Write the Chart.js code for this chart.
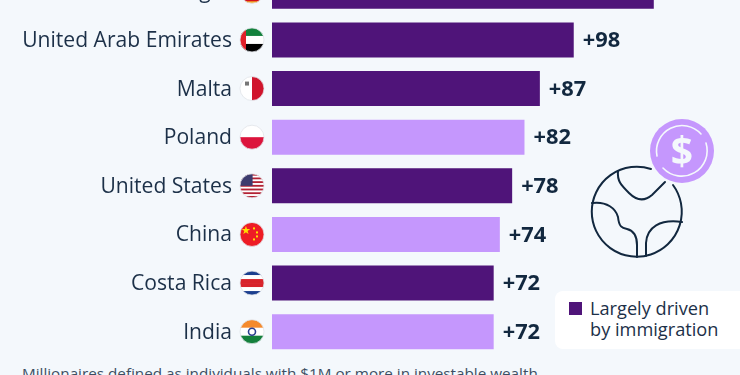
<!DOCTYPE html>
<html>
<head>
<meta charset="utf-8">
<script src="https://cdn.jsdelivr.net/npm/chart.js@4"></script>
<style>
  html, body { margin: 0; width: 740px; height: 375px; overflow: hidden; background: #f4f8fc; }
  #wrap { position: absolute; left: 0; top: -33px; width: 740px; height: 389px; }
  #note { position: absolute; left: 22px; top: 363px; font: 15.25px "Open Sans"; color: #3d4f63; white-space: nowrap; }
  #legend { position: absolute; left: 555px; top: 291px; width: 200px; height: 58px; background: #fff; border-radius: 8px; }
  #legend i { position: absolute; left: 14px; top: 11px; width: 13px; height: 13px; background: #4f1479; }
  #legend span { position: absolute; left: 35px; top: 7px; font: 18.2px/21px "Open Sans"; color: #1c3048; white-space: nowrap; }
  #icon { position: absolute; left: 585px; top: 115px; }
</style>
</head>
<body>
<div id="wrap"><canvas id="chart"></canvas></div>
<svg id="icon" width="135" height="165" viewBox="0 0 135 165" fill="none" stroke="#12283f" stroke-width="2" stroke-linecap="round">
  <circle cx="97" cy="36" r="32" fill="#c597fd" stroke="none"/>
  <path d="M72 41 A25.5 25.5 0 0 1 116 19 M121 28 A25.5 25.5 0 0 1 78 53" stroke="#f4f8fc" stroke-width="1.6"/>
  <text x="97" y="50" text-anchor="middle" font-family="Open Sans" font-weight="700" font-size="39" fill="#f4f8fc" stroke="none">$</text>
  <path d="M66 54 A45 45 0 1 0 88 70"/>
  <path d="M33 56 C32 66 36 70 44 78 C52 86 60 86 67 80 L80 67"/>
  <path d="M7 88 C22 86 31 94 33 102 C34 112 37 113 42 114 C50 116 52 122 52 130 L52 142"/>
  <path d="M97 107 C75 104 62 112 61 128 L61 141"/>
</svg>
<div id="legend"><i></i><span>Largely driven<br>by immigration</span></div>
<div id="note">Millionaires defined as individuals with $1M or more in investable wealth.</div>
<script>
const categories = ['Montenegro', 'United Arab Emirates', 'Malta', 'Poland', 'United States', 'China', 'Costa Rica', 'India'];
const growth = [124, 98, 87, 82, 78, 74, 72, 72];
const immigrationDriven = [true, true, true, false, true, false, true, false];

const darkPurple = '#4f1479';
const lightPurple = '#c597fd';
const textColor = '#1c3048';
const valueColor = '#12283f';

// stripes for the round flags, top to bottom
const flagStripes = {
  'Montenegro': ['#d3111c'],
  'United Arab Emirates': ['#12813c', '#fff', '#000'],
  'Malta': null,
  'Poland': ['#fff', '#dc143c'],
  'United States': ['#b22234', '#fff', '#b22234', '#fff', '#b22234', '#fff', '#b22234', '#fff', '#b22234', '#fff', '#b22234', '#fff', '#b22234'],
  'China': ['#ee1c25'],
  'Costa Rica': ['#1b3f8f', '#fff', '#d8232a', '#d8232a', '#fff', '#1b3f8f'],
  'India': ['#f58a2c', '#fff', '#14803c']
};

function drawFlag(ctx, name, cx, cy, r) {
  ctx.save();
  ctx.beginPath();
  ctx.arc(cx, cy, r, 0, Math.PI * 2);
  ctx.clip();
  ctx.fillStyle = '#fff';
  ctx.fillRect(cx - r, cy - r, r * 2, r * 2);
  const stripes = flagStripes[name];
  if (stripes) {
    const h = (r * 2) / stripes.length;
    stripes.forEach((c, i) => {
      ctx.fillStyle = c;
      ctx.fillRect(cx - r, cy - r + i * h, r * 2, h + 0.5);
    });
  }
  if (name === 'Montenegro') {
    ctx.fillStyle = '#f7b52c';
    ctx.fillRect(cx - r, cy + r - 2, r * 2, 2);
  }
  if (name === 'United Arab Emirates') {
    ctx.fillStyle = '#e0202a';
    ctx.fillRect(cx - r, cy - r, r * 0.5, r * 2);
  }
  if (name === 'Malta') {
    ctx.fillStyle = '#d0142c';
    ctx.fillRect(cx, cy - r, r, r * 2);
    ctx.fillStyle = '#777';
    ctx.fillRect(cx - 7, cy - 7, 4, 4);
  }
  if (name === 'United States') {
    ctx.fillStyle = '#3c3b6e';
    ctx.fillRect(cx - r, cy - r, r * 1.05, r);
  }
  if (name === 'China') {
    ctx.fillStyle = '#ffde00';
    ctx.font = '11px "DejaVu Sans"';
    ctx.textAlign = 'center';
    ctx.textBaseline = 'middle';
    ctx.fillText('★', cx - 6, cy - 3);
    ctx.fillRect(cx + 1, cy - 7, 2, 2);
    ctx.fillRect(cx + 4, cy - 3, 2, 2);
    ctx.fillRect(cx + 4, cy + 1, 2, 2);
    ctx.fillRect(cx + 1, cy + 4, 2, 2);
  }
  if (name === 'India') {
    ctx.strokeStyle = '#2a3f8f';
    ctx.lineWidth = 1.6;
    ctx.beginPath();
    ctx.arc(cx, cy, 3.5, 0, Math.PI * 2);
    ctx.stroke();
  }
  ctx.restore();
  ctx.strokeStyle = '#dfe3e8';
  ctx.lineWidth = 0.8;
  ctx.beginPath();
  ctx.arc(cx, cy, r, 0, Math.PI * 2);
  ctx.stroke();
}

const flagsAndValues = {
  id: 'flagsAndValues',
  afterDatasetsDraw(chart) {
    const { ctx, scales } = chart;
    const bars = chart.getDatasetMeta(0).data;
    categories.forEach((name, i) => {
      drawFlag(ctx, name, 252, scales.y.getPixelForValue(i), 12);
      ctx.save();
      ctx.fillStyle = valueColor;
      ctx.font = '700 21.8px "Open Sans"';
      ctx.textAlign = 'left';
      ctx.textBaseline = 'middle';
      ctx.fillText('+' + growth[i], bars[i].x + 9, bars[i].y + 1);
      ctx.restore();
    });
  }
};

new Chart(document.getElementById('chart'), {
  type: 'bar',
  data: {
    labels: categories,
    datasets: [{
      data: growth,
      backgroundColor: immigrationDriven.map(d => d ? darkPurple : lightPurple),
      borderWidth: 0,
      categoryPercentage: 1,
      barPercentage: 0.72
    }]
  },
  options: {
    indexAxis: 'y',
    responsive: true,
    maintainAspectRatio: false,
    animation: false,
    plugins: { legend: { display: false }, tooltip: { enabled: false } },
    scales: {
      x: { display: false, min: 0, max: 152 },
      y: {
        // tick padding would otherwise be added above and below the plot
        afterFit(scale) { scale.width = 272; scale.paddingTop = 0; scale.paddingBottom = 0; },
        border: { display: false },
        grid: { display: false, drawTicks: false },
        ticks: {
          color: textColor,
          padding: 40,
          autoSkip: false,
          labelOffset: 1,
          font: { family: 'Open Sans', size: 21.1 }
        }
      }
    }
  },
  plugins: [flagsAndValues]
});
</script>
</body>
</html>
